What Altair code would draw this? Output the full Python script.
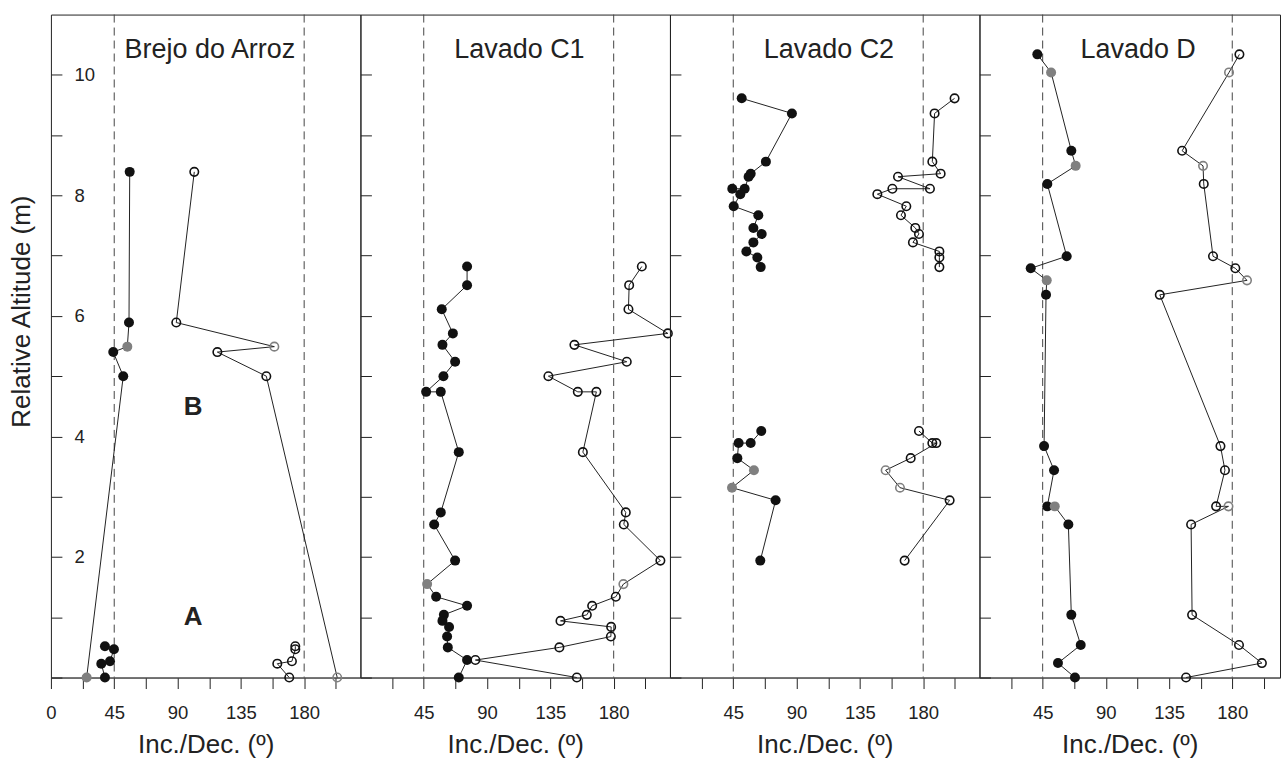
import altair as alt
import pandas as pd

FONT = "Liberation Sans"

# ---------------- data ----------------
panel_names = ["Brejo do Arroz", "Lavado C1", "Lavado C2", "Lavado D"]

# Brejo do Arroz
h1 = [8.39, 5.89, 5.49, 5.40, 5.00, 0.00, 0.52, 0.47, 0.27, 0.23, 0.00]
inc1 = [56.0, 55.5, 54.3, 44.3, 51.4, 25.4, 38.4, 44.8, 42.0, 35.8, 38.4]
dec1 = [101.9, 89.1, 158.8, 118.3, 153.1, 203.5, 173.7, 173.7, 171.3, 160.9, 169.4]
gray1 = [0, 0, 1, 0, 0, 1, 0, 0, 0, 0, 0]
seg1 = [0, 0, 0, 0, 0, 0, 1, 1, 1, 1, 1]

# Lavado C1
h2 = [6.82, 6.51, 6.11, 5.71, 5.52, 5.24, 5.00, 4.74, 4.74, 3.74, 2.74, 2.54,
      1.94, 1.55, 1.34, 1.19, 1.04, 0.94, 0.84, 0.68, 0.50, 0.29, 0.00]
inc2 = [75.8, 75.8, 57.8, 65.7, 58.3, 67.3, 59.0, 46.7, 57.1, 69.9, 57.1, 52.4,
        67.3, 47.4, 53.8, 75.8, 59.3, 58.3, 63.0, 61.6, 62.1, 75.8, 69.9]
dec2 = [200.0, 191.0, 190.5, 218.5, 152.1, 189.3, 133.6, 154.5, 167.7, 158.1, 188.6, 187.2,
        213.2, 186.9, 181.5, 164.7, 160.9, 142.2, 178.2, 178.0, 141.4, 81.7, 153.8]
gray2 = [0] * 13 + [1] + [0] * 9
seg2 = [0] * 23

# Lavado C2
h3 = [9.61, 9.36, 8.56, 8.36, 8.31, 8.11, 8.11, 8.02, 7.82, 7.67, 7.46, 7.36, 7.22, 7.07, 6.97, 6.81,
      4.09, 3.89, 3.89, 3.64, 3.44, 3.15, 2.94, 1.94]
inc3 = [51.0, 86.7, 68.2, 57.4, 55.9, 53.1, 44.3, 50.0, 45.3, 62.8, 59.3, 65.2, 59.3, 54.3, 62.1, 64.5,
        64.9, 57.4, 48.8, 47.9, 59.7, 44.1, 75.1, 64.2]
dec3 = [202.3, 188.1, 186.5, 192.4, 162.1, 184.8, 158.1, 147.4, 168.0, 164.2, 174.4, 177.0, 172.7, 191.5, 191.5, 191.5,
        177.0, 186.5, 189.3, 171.1, 153.3, 163.5, 198.8, 166.8]
gray3 = [0] * 20 + [1, 1, 0, 0]
seg3 = [0] * 16 + [1] * 8

# Lavado D
h4 = [10.34, 10.04, 8.74, 8.49, 8.19, 6.99, 6.79, 6.59, 6.35, 3.84, 3.44, 2.84, 2.84, 2.54, 1.04, 0.54, 0.24, 0.00]
inc4 = [41.2, 51.0, 65.4, 68.5, 48.3, 62.1, 36.5, 47.9, 47.4, 46.0, 53.1, 48.3, 53.6, 63.3, 65.4, 72.1, 55.9, 68.0]
dec4 = [185.1, 177.7, 144.3, 159.2, 159.7, 166.3, 182.2, 190.5, 128.4, 171.6, 174.8, 168.5, 177.3, 150.7, 151.4,
        184.8, 201.1, 147.1]
gray4 = [0, 1, 0, 1, 0, 0, 0, 1, 0, 0, 0, 0, 1, 0, 0, 0, 0, 0]
seg4 = [0] * 18

ref_lines = [45, 180]
x_ticks = [0, 22.5, 45, 67.5, 90, 112.5, 135, 157.5, 180, 202.5]
y_ticks = [0, 1, 2, 3, 4, 5, 6, 7, 8, 9, 10]
zone_labels = ["B", "A"]
zone_x = [101, 101]
zone_y = [4.49, 1.0]

# ---------------- chart ----------------
color_scale = alt.Scale(domain=[0, 1], range=["#111111", "#808080"])


def make_panel(name, hs, incs, decs, grays, segs, width, xmax, first):
    rows = []
    for i, (h, a, d, g, s) in enumerate(zip(hs, incs, decs, grays, segs)):
        rows.append(dict(seq=i, grp=f"inc{s}", height=h, val=a, kind="inc", gray=g))
        rows.append(dict(seq=i, grp=f"dec{s}", height=h, val=d, kind="dec", gray=g))
    df = pd.DataFrame(rows)

    if first:
        xt = x_ticks
        lab = "datum.value % 45 == 0 ? datum.label : ''"
    else:
        xt = x_ticks[1:]
        lab = "datum.value % 45 == 0 && datum.value > 0 ? datum.label : ''"

    X = alt.X("val:Q", scale=alt.Scale(domain=[0, xmax], nice=False, zero=False),
              title="Inc./Dec. (º)",
              axis=alt.Axis(values=xt, labelExpr=lab, tickSize=11, labelPadding=15,
                            labelFontSize=18.5, titleFontSize=26, titlePadding=10,
                            domainColor="#555555", labelFlush=False, labelOverlap=False))
    if first:
        yaxis = alt.Axis(values=y_ticks,
                         labelExpr="datum.value % 2 == 0 && datum.value > 0 ? datum.label : ''",
                         tickSize=11, offset=-11, domain=False, labelAlign="left",
                         labelPadding=-23, labelBaseline="middle", labelFontSize=18.5,
                         titleFontSize=26, titleX=-40, titleY=297, titleAlign="center",
                         titleBaseline="middle", titleAngle=270)
        Y = alt.Y("height:Q", scale=alt.Scale(domain=[0, 11], nice=False, zero=False),
                  title="Relative Altitude (m)", axis=yaxis)
    else:
        yaxis = alt.Axis(values=y_ticks, labels=False, tickSize=11, offset=-11, domain=False)
        Y = alt.Y("height:Q", scale=alt.Scale(domain=[0, 11], nice=False, zero=False),
                  title=None, axis=yaxis)

    base = alt.Chart(df)
    rules = alt.Chart(pd.DataFrame({"val": ref_lines})).mark_rule(
        strokeDash=[8, 5], color="#444444", strokeWidth=1).encode(x=X)
    lines = base.mark_line(color="#222222", strokeWidth=1).encode(
        x=X, y=Y, detail="grp:N", order="seq:Q")
    filled = base.transform_filter(alt.datum.kind == "inc").mark_circle(size=100, opacity=1).encode(
        x=X, y=Y, color=alt.Color("gray:N", scale=color_scale, legend=None))
    hollow = base.transform_filter(alt.datum.kind == "dec").mark_point(
        shape="circle", filled=False, size=72, strokeWidth=1.6, opacity=1).encode(
        x=X, y=Y, color=alt.Color("gray:N", scale=color_scale, legend=None))
    title = alt.Chart(pd.DataFrame({"val": [113], "height": [10.41], "t": [name]})).mark_text(
        fontSize=27, font=FONT, color="#222222", baseline="middle", align="center").encode(
        x=X, y=Y, text="t:N")
    layers = [rules, lines, filled, hollow, title]
    if first:
        zones = alt.Chart(pd.DataFrame({"val": zone_x, "height": zone_y, "t": zone_labels})).mark_text(
            fontSize=26, font=FONT, fontWeight="bold", color="#222222", baseline="middle",
            align="center").encode(x=X, y=Y, text="t:N")
        layers.append(zones)
    return alt.layer(*layers).properties(width=width, height=664)


p1 = make_panel(panel_names[0], h1, inc1, dec1, gray1, seg1, 310, 220, True)
p2 = make_panel(panel_names[1], h2, inc2, dec2, gray2, seg2, 310, 220, False)
p3 = make_panel(panel_names[2], h3, inc3, dec3, gray3, seg3, 310, 220, False)
p4 = make_panel(panel_names[3], h4, inc4, dec4, gray4, seg4, 301, 214, False)

chart = alt.hconcat(p1, p2, p3, p4, spacing=0, bounds="flush").resolve_scale(
    x="independent", y="shared", color="shared"
).properties(
    padding={"left": 8, "top": 13, "right": 0, "bottom": 0},
    background="white",
).configure_view(
    stroke="#222222", strokeWidth=1
).configure_axis(
    labelFont=FONT, titleFont=FONT, labelColor="#222222", titleColor="#222222",
    tickColor="#222222", grid=False, titleFontWeight="normal"
)

chart.save("out.html", embed_options={"renderer": "svg", "actions": False})
